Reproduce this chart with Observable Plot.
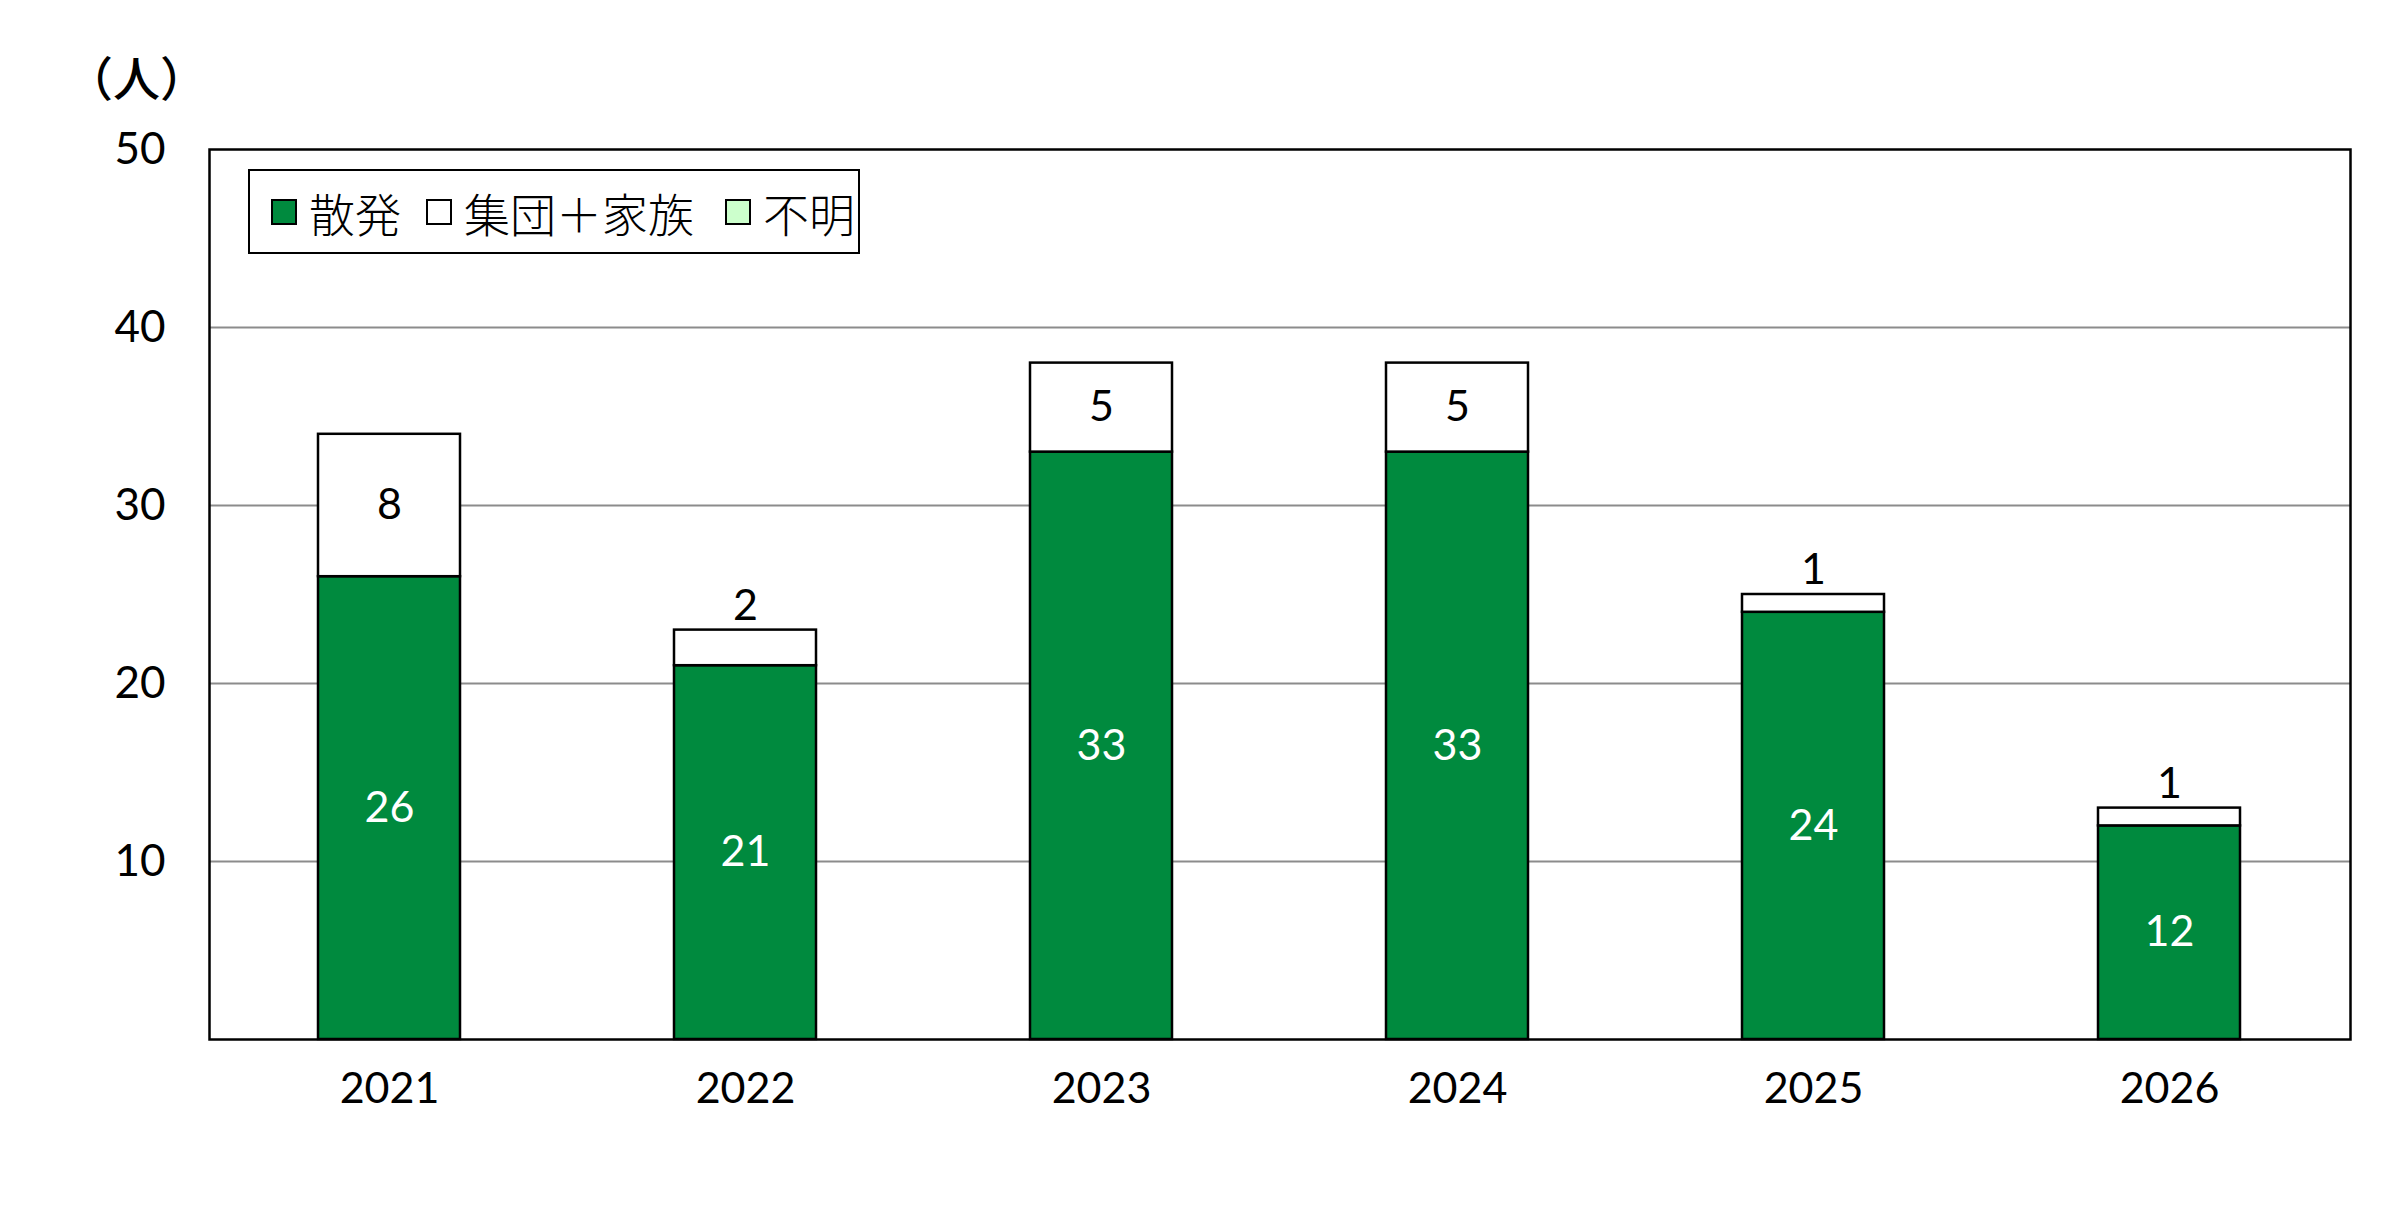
<!DOCTYPE html>
<html>
<head>
<meta charset="utf-8">
<script src="https://cdn.jsdelivr.net/npm/d3@7"></script>
<script src="https://cdn.jsdelivr.net/npm/@observablehq/plot@0.6"></script>
<style>
  html, body { margin: 0; padding: 0; background: #fff; }
  #wrap { position: relative; width: 2388px; height: 1219px; }
  #unit { position: absolute; left: 66px; top: 52px; font-family: "Noto Sans CJK JP", sans-serif; font-size: 47px; font-weight: 500; line-height: 1; color: #000; }
  #legend { position: absolute; left: 248px; top: 169px; width: 612px; height: 85px; box-sizing: border-box;
    border: 2.5px solid #000; background: #fff; display: flex; align-items: center; padding-left: 21px;
    font-family: "Noto Sans CJK JP", sans-serif; font-size: 46px; font-weight: 300; color: #000; }
  #legend .sw { width: 26px; height: 26px; box-sizing: border-box; border: 2.5px solid #000; margin-right: 12px; flex: none; }
  #legend .lb { line-height: 1; white-space: nowrap; }
</style>
</head>
<body>
<div id="wrap">
  <div id="chart"></div>
  <div id="unit">（人）</div>
  <div id="legend"></div>
</div>
<script>
const years = ["2021", "2022", "2023", "2024", "2025", "2026"];
const sporadic = [26, 21, 33, 33, 24, 12];
const clusterFamily = [8, 2, 5, 5, 1, 1];
const unknown = [0, 0, 0, 0, 0, 0];
const seriesNames = ["散発", "集団＋家族", "不明"];
const seriesColors = ["#008a3e", "#ffffff", "#ccffcc"];
const yTicks = [10, 20, 30, 40, 50];
const gridTicks = [10, 20, 30, 40];

const seriesValues = [sporadic, clusterFamily, unknown];
const rows = [];
years.forEach((year, i) => {
  let base = 0;
  seriesNames.forEach((s, k) => {
    const v = seriesValues[k][i];
    rows.push({year, series: s, k, value: v, y1: base, y2: base + v});
    base += v;
  });
});
const barRows = rows.filter(d => d.value > 0);
const greenLabels = rows.filter(d => d.k === 0 && d.value > 0);
const whiteBig = rows.filter(d => d.k === 1 && d.value > 2);
const whiteSmall = rows.filter(d => d.k === 1 && d.value > 0 && d.value <= 2);

const chart = Plot.plot({
  width: 2388,
  height: 1219,
  marginTop: 149,
  marginBottom: 180,
  marginLeft: 209,
  marginRight: 38,
  style: {fontFamily: "Lato, 'Noto Sans', sans-serif", background: "#fff", color: "#000"},
  x: {type: "band", domain: years, paddingInner: 0.6, paddingOuter: 0.3, label: null},
  y: {domain: [0, 50], label: null},
  color: {domain: seriesNames, range: seriesColors},
  marks: [
    Plot.ruleY(gridTicks, {stroke: "#8c8c8c", strokeWidth: 2}),
    Plot.barY(barRows, {x: "year", y1: "y1", y2: "y2", fill: "series", stroke: "#000", strokeWidth: 2.5}),
    Plot.text(greenLabels, {x: "year", y: d => (d.y1 + d.y2) / 2, text: d => String(d.value), fill: "#fff", fontSize: 43}),
    Plot.text(whiteBig, {x: "year", y: d => (d.y1 + d.y2) / 2, text: d => String(d.value), fill: "#000", fontSize: 43}),
    Plot.text(whiteSmall, {x: "year", y: "y2", text: d => String(d.value), fill: "#000", fontSize: 43, dy: -24}),
    Plot.axisY({ticks: yTicks, tickSize: 0, tickPadding: 44, fontSize: 44, label: null}),
    Plot.axisX({tickSize: 0, tickPadding: 33, fontSize: 43, label: null}),
    Plot.frame({stroke: "#000", strokeWidth: 2.5})
  ]
});
document.getElementById("chart").appendChild(chart);

const legend = document.getElementById("legend");
const gaps = [25, 31, 0];
seriesNames.forEach((s, k) => {
  const sw = document.createElement("span");
  sw.className = "sw";
  sw.style.background = seriesColors[k];
  const lb = document.createElement("span");
  lb.className = "lb";
  lb.textContent = s;
  lb.style.marginRight = gaps[k] + "px";
  legend.appendChild(sw);
  legend.appendChild(lb);
});
</script>
</body>
</html>
